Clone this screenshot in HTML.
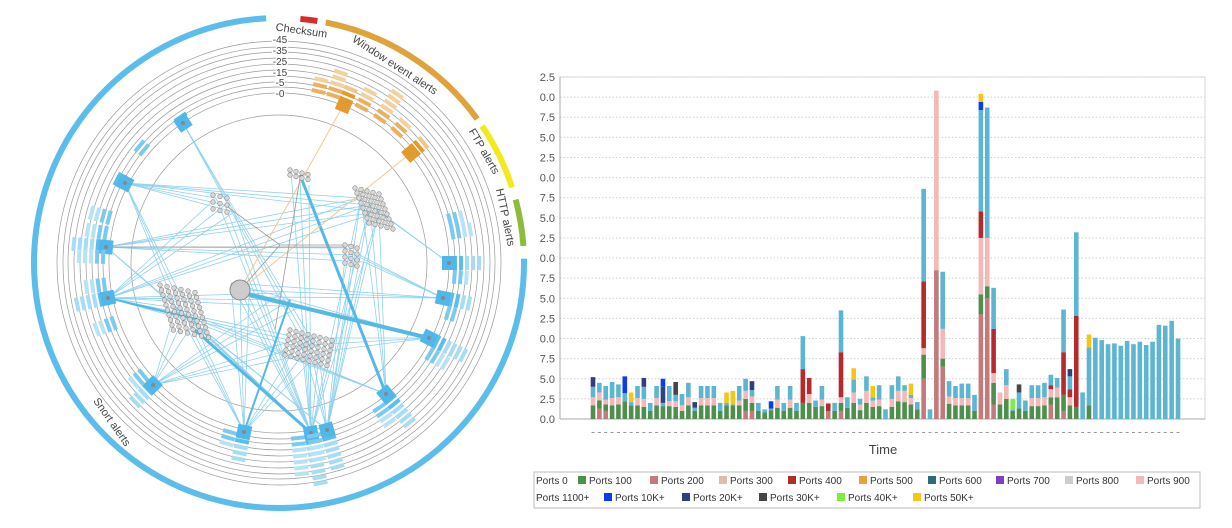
<!DOCTYPE html>
<html><head><meta charset="utf-8"><style>
body{margin:0;background:#fff;width:1232px;height:528px;overflow:hidden;font-family:"Liberation Sans",sans-serif}
svg{position:absolute;left:0;top:0}
</style></head><body>
<svg id="left" width="530" height="528" viewBox="0 0 530 528"></svg>
<svg id="right" width="1232" height="528" viewBox="0 0 1232 528" style="left:0"></svg>
<script>
// ---------- Bar chart data ----------
const categories = Array.from({length:93},(_,i)=>'t'+(i+1));
const yTickLabels = ['0.0','2.5','5.0','7.5','0.0','2.5','5.0','7.5','0.0','2.5','5.0','7.5','0.0','2.5','5.0','7.5','0.0','2.5'];
const yTickValues = [0,2.5,5,7.5,10,12.5,15,17.5,20,22.5,25,27.5,30,32.5,35,37.5,40,42.5];
const mauve = [0,1.3,1.0,0,0,0,0,0,0,0,0,0,0,0,0,0,0,0,0,0,0,0,0,0,1.0,1.0,0,0,0,0,0,0,0,0,0,0,0,1.0,0,1.0,0,0,0,0,0,0,0,0,0,0,0,0,5.0,0,18.5,6.5,0,0,0,0,0,13.0,15.0,1.8,0,0,0,0,0,0,0,0,1.8,0,1.0,0,0,0,0,0,0,0,0,0,0,0,0,0,0,0,0,0,0];
const green = [1.7,1.0,0.8,1.7,1.8,2.2,1.7,1.7,1.5,1.0,1.7,1.6,1.6,1.5,1.0,1.7,1.0,1.7,1.7,1.7,1.0,1.7,1.7,1.7,1.5,1.0,1.0,0.8,1.1,1.4,1.0,1.4,1.0,2.0,2.0,1.5,1.6,0,1.0,1.0,1.4,2.0,1.1,2.0,1.5,1.6,0,1.5,2.2,2.1,1.8,1.2,3.0,0,0,1.0,1.9,1.7,1.7,1.7,1.0,2.5,1.5,2.7,1.8,2.5,1.0,1.3,1.0,1.6,1.6,1.7,0.9,2.7,2.0,1.7,1.5,0,1.7,0,0,0,0,0,0,0,0,0,0,0,0,0,0];
const pink = [1.0,1.0,0.6,0.9,0.9,0,0,0.9,1.0,0,0.9,0,0.6,0.7,0.7,1.0,0,0.9,0.9,0.9,0,0,0,0.6,1.0,0.8,0,0,0,1.0,0,1.0,0,0,1.1,0,0.8,0,0,0.7,0,1.3,0.7,1.5,0.8,0.8,0,1.0,1.3,1.4,0.8,0,0.8,0,22.3,3.7,0.9,0.9,0.9,0.9,0,7.0,6.0,1.2,1.5,1.7,0,0,0,1.0,1.0,1.0,1.0,1.2,0,1.0,0,0,0,0,0,0,0,0,0,0,0,0,0,0,0,0,0];
const red = [0,0,0,0,0,0,0,0,0,0,0,0,0,0,0,0,0,0,0,0,0,0,0,0,0,0,0,0,0,0,0,0,0,4.2,2.0,0,0,0.9,0,5.6,0,0,0,0,0,0,0,0,0,0,0,0,8.3,0,0,0,0,0,0,0,0,3.3,0,5.5,0,0,0,0,0,0,0,0,0.5,0,5.3,1.0,11.3,0,0,0,0,0,0,0,0,0,0,0,0,0,0,0,0];
const lightBlue = [1.3,1.2,1.7,2.0,1.6,1.0,0.4,1.5,1.5,1.0,1.5,0.4,1.9,0.8,1.4,1.8,0.4,1.5,1.5,1.5,1.0,0.3,0.1,1.8,1.5,0.8,1.0,0.4,0.2,1.7,1.0,1.7,1.0,4.1,0,0.8,1.7,0.1,1.0,5.2,1.3,1.6,0.7,1.8,0.4,1.8,1.2,1.7,1.8,0.7,0.4,0.9,11.5,1.2,0,7.1,1.9,1.5,1.8,1.8,2.0,12.6,16.2,5.1,0,2.0,0.2,2.0,1.3,1.6,1.6,1.8,1.3,1.2,5.3,1.6,10.4,3.3,7.2,10.1,9.8,9.3,9.4,9.1,9.7,9.3,9.6,9.2,9.6,11.7,11.6,12.2,10.0];
const navy = [1.2,0,0,0,0,0,0,0,1.1,0,0,2.0,0,0,0,0,0.7,0,0,0,0,0,0,0,0,1.1,0,0,0,0,0,0,0,0,0,0,0,0,0,0,0,0,0,0,0,0,0,0,0,0,0,0,0,0,0,0,0,0,0,0,0,0,0,0,0,0,0,0,0,0,0,0,0,0,0,0.9,0,0,0,0,0,0,0,0,0,0,0,0,0,0,0,0,0];
const blue10k = [0,0,0,0,0,2.1,0,0,0,0,0,1.0,0,0,0,0,0,0,0,0,0,0,0,0,0,0,0,0,0.9,0,0,0,0,0,0,0,0,0,0,0,0,0,0,0,0,0,0,0,0,0,0,0,0,0,0,0,0,0,0,0,0,1.0,0,0,0,0,0,0,0,0,0,0,0,0,0,0,0,0,0,0,0,0,0,0,0,0,0,0,0,0,0,0,0];
const gray30k = [0,0,0,0,0,0,0,0,0,0,0,0,0,1.6,0,0,0,0,0,0,0,0,0,0,0,0,0,0,0,0,0,0,0,0,0,0,0,0,0,0,0,0,0,0,0,0,0,0,0,0,0,0,0,0,0,0,0,0,0,0,0,0,0,0,0,0,0,1.0,0,0,0,0,0,0,0,0,0,0,0,0,0,0,0,0,0,0,0,0,0,0,0,0,0];
const lime40k = [0,0,0,0,0,0,0,0,0,0,0,0,0,0,0,0,0,0,0,0,0,0,0,0,0,0,0,0,0,0,0,0,0,0,0,0,0,0,0,0,0,0,0,0,0,0,0,0,0,0,0,0,0,0,0,0,0,0,0,0,0,0,0,0,0,0,1.3,0,0,0,0,0,0,0,0,0,0,0,0,0,0,0,0,0,0,0,0,0,0,0,0,0,0];
const yellow50k = [0,0,0,0,0,0,1.2,0,0,0,0,0,0,0,0,0,0,0,0,0,0,1.3,1.7,0,0,0,0,0,0,0,0,0,0,0,0,0,0,0,0,0,0,1.4,0,0,1.4,0,0,0,0,0,1.4,0,0,0,0,0,0,0,0,0,0,1.0,0,0,0,0,0,0,0,0,0,0,0,0,0,0,0,0,1.6,0,0,0,0,0,0,0,0,0,0,0,0,0,0];
const seriesList = [
 ['mauve',mauve,'#c47a7a'],['green',green,'#4e8f4e'],['pink',pink,'#f4b8b8'],['red',red,'#b52a2a'],
 ['light-blue',lightBlue,'#5cb6d2'],['navy',navy,'#323e82'],['blue-10k',blue10k,'#0b3cf0'],
 ['gray-30k',gray30k,'#454545'],['lime-40k',lime40k,'#7cf03c'],['yellow-50k',yellow50k,'#f5c518']];
const legendLabels = ['Ports 0','Ports 100','Ports 200','Ports 300','Ports 400','Ports 500','Ports 600','Ports 700','Ports 800','Ports 900','Ports 1100+','Ports 10K+','Ports 20K+','Ports 30K+','Ports 40K+','Ports 50K+'];
const legendColors = [null,'#4e8f4e','#c47a7a','#dbbcae','#b52a2a','#e8a040','#2e6b78','#7b3fc8','#cccccc','#f4b8b8',null,'#0b3cf0','#323e82','#454545','#7cf03c','#f5c518'];

const NS='http://www.w3.org/2000/svg';
function mk(p,tag,at){const e=document.createElementNS(NS,tag);for(const k in at)e.setAttribute(k,at[k]);p.appendChild(e);return e;}

// axes
const X0=560,X1=1205,Y0=419,YT=77,VMAX=42.5;
const yS=v=>Y0-(v/VMAX)*(Y0-YT);
const xS=i=>593+i*(1178-593)/(categories.length-1);
const R=document.getElementById('right');
const pa=mk(R,'rect',{x:X0,y:YT,width:X1-X0,height:Y0-YT,fill:'none',stroke:'#d8d8d8'});


yTickValues.forEach((v,k)=>{
  const g=mk(R,'line',{x1:X0,x2:X1,y1:yS(v),y2:yS(v),stroke:'#d0d0d0','stroke-dasharray':'1.5 2'});
  
  
  const t=mk(R,'text',{x:X0-5,y:yS(v)+4,'text-anchor':'end','font-size':11,fill:'#555'});
  t.textContent=yTickLabels[k];
  
  
});
mk(R,'line',{x1:X0,x2:X0,y1:YT,y2:Y0,stroke:'#aaa'});
mk(R,'line',{x1:X0,x2:X1,y1:Y0,y2:Y0,stroke:'#aaa'});
// bars
categories.forEach((c,i)=>{
  let acc=0;
  seriesList.forEach(([nm,arr,col])=>{
    const v=arr[i]; if(!v) return;
    const r=mk(R,'rect',{x:xS(i)-2.3,width:4.6,y:yS(acc+v),height:yS(acc)-yS(acc+v),fill:col});
    
    
    acc+=v;
  });
  const tk=mk(R,'rect',{x:xS(i)-1.5,y:432,width:3,height:1,fill:'#999'});
  
  
});
const xt=mk(R,'text',{x:883,y:454,'text-anchor':'middle','font-size':13,fill:'#444'});
xt.textContent='Time';


// legend
const lb=mk(R,'rect',{x:534,y:472,width:666,height:36,fill:'#fff',stroke:'#bbb'});


const legX=[536,578,650,719,788,859,928,996,1065,1136,536,604,682,759,837,913];
legendLabels.forEach((l,k)=>{
  const y=k<10?482:499;
  let tx=legX[k];
  if(legendColors[k]){
    const s=mk(R,'rect',{x:legX[k],y:y-6,width:8,height:8,fill:legendColors[k]});
    
    
    tx+=11;
  }
  const t=mk(R,'text',{x:tx,y:y+2,'font-size':10,fill:'#333'});
  t.textContent=l;
  
  
});

// ---------- Radial graph ----------
const L=document.getElementById('left');
const CX=279,CY=263;
const pol=(r,a)=>[CX+r*Math.cos(a*Math.PI/180),CY+r*Math.sin(a*Math.PI/180)];
function arc(r,a1,a2,col,w,name){
  const [x1,y1]=pol(r,a1),[x2,y2]=pol(r,a2);
  const large=((a2-a1+360)%360)>180?1:0;
  const p=mk(L,'path',{d:`M${x1} ${y1} A${r} ${r} 0 ${large} 1 ${x2} ${y2}`,fill:'none',stroke:col,'stroke-width':w});
  
  
}
arc(245,-1,-93,'#5bbdec',6,'snort-alerts-arc');
arc(245,-85,-81,'#d92b2b',6,'checksum-arc');
arc(245,-79,-36,'#e0a23a',6,'window-event-arc');
arc(245,-34,-18,'#f2ea1c',6,'ftp-arc');
arc(245,-15,-4,'#8cbc3c',6,'http-arc');
// rings
const ringR=[148,170,176,181,187,193,199,205,211,216,222];
ringR.forEach(r=>{const c=mk(L,'circle',{cx:CX,cy:CY,r:r,fill:'none',stroke:'#999','stroke-width':0.7});
 
 });
const ringLabels=[['-0',97],['-5',86],['-15',76],['-25',65],['-35',54],['-45',43]];
ringLabels.forEach(([t,y])=>{const e=mk(L,'text',{x:280,y:y,'text-anchor':'middle','font-size':10,fill:'#444',stroke:'#fff','stroke-width':2.5,'paint-order':'stroke'});e.textContent=t;
 
 });
// labels
function lab(t,x,y,rot,name){const e=mk(L,'text',{x:x,y:y,'font-size':11,fill:'#444','text-anchor':'middle',transform:`rotate(${rot} ${x} ${y})`});e.textContent=t;
 
 }
lab('Checksum',301,34,8,'checksum-label');
lab('Window event alerts',393,68,33,'window-event-label');
lab('FTP alerts',481,153,60,'ftp-label');
lab('HTTP alerts',502,218,78,'http-label');
lab('Snort alerts',109,424,55,'snort-label');
// edges
const clusters=[[185,315],[310,345],[370,205],[240,290],[225,205],[300,178],[355,255],[280,245],[290,300]];
const alertNodes=[[183,123,-124],[125,183,-152.5],[106,247,-174.7],[108,298,168.4],[153,385,136],[244,432,101.7],[311,433,79.3],[327,430,74],[386,394,50.8],[429,338,26.6],[443,298,12],[449,263,0]];
const thinEdges=[[0,1],[1,0],[1,2],[1,4],[2,0],[2,2],[2,6],[3,0],[3,1],[3,2],[3,4],[3,8],[4,0],[4,1],[5,1],[5,3],[6,0],[6,1],[6,2],[6,4],[6,5],[7,1],[7,2],[7,6],[8,2],[8,0],[9,3],[10,3],[11,2],[10,6],[9,1],[6,3],[5,0],[7,0],[4,8]];
thinEdges.forEach(([a,c])=>{
  const [x,y]=alertNodes[a];const [cx,cy]=clusters[c];
  for(let k=0;k<3;k++){const e=mk(L,'line',{x1:x,y1:y,x2:cx+(k-1)*9,y2:cy+(k-1)*7,stroke:'#8fd2ef','stroke-width':0.8});
   
   }
});
const thick=[[238,292,429,338,4],[300,175,386,394,3],[195,330,311,433,3],[244,432,290,300,2],[108,298,200,320,2]];
thick.forEach(([a,b,c,d,w])=>{const e=mk(L,'line',{x1:a,y1:b,x2:c,y2:d,stroke:'#55b9e6','stroke-width':w});
 
 });
[[343,106,240,290],[411,153,240,290]].forEach(([a,b,c,d])=>{const e=mk(L,'line',{x1:a,y1:b,x2:c,y2:d,stroke:'#f0c890','stroke-width':1});
 
 });
[[225,205,280,245],[280,245,355,245],[300,178,275,330],[240,290,280,245],[106,247,345,247]].forEach(([a,b,c,d])=>{const e=mk(L,'line',{x1:a,y1:b,x2:c,y2:d,stroke:'#999','stroke-width':0.8});
 
 });
// host clusters
function cluster(x0,y0,rows,cols,dx,dy,skew){
  for(let r=0;r<rows;r++)for(let c=0;c<cols;c++){
    const e=mk(L,'circle',{cx:x0+c*dx+r*skew,cy:y0+r*dy+c*1.5,r:2.3,fill:'#d8d8d8',stroke:'#888','stroke-width':0.6});
    
    
  }
}
cluster(160,285,10,6,7,5,1.5);
cluster(290,330,6,8,6,5,-1);
cluster(355,188,8,5,6,5,2);
cluster(213,195,3,3,7,7,0);
cluster(290,170,2,4,6,5,0);
cluster(345,245,4,3,6,6,0);
const big=mk(L,'circle',{cx:240,cy:290,r:10,fill:'#ccc',stroke:'#888'});


// alert nodes + stacks
function stack(a,ang,levels,col,light){
  for(let k=0;k<levels;k++){
    const r=176+k*6;const [x,y]=pol(r,ang);
    const e=mk(L,'rect',{x:x-7,y:y-2,width:14,height:4,fill:k<2?col:light,transform:`rotate(${ang+90} ${x} ${y})`});
    
    
  }
}
const stackLevels=[1,2,6,6,5,5,9,7,6,6,4,5];
alertNodes.forEach(([x,y,ang],k)=>{
  stack(k,ang,stackLevels[k],'#5bbdec','#a8dcf5');
  stack(k,ang+4.5,Math.max(0,stackLevels[k]-2),'#7cc9ef','#b8e2f6');
  const s=mk(L,'rect',{x:x-7,y:y-7,width:14,height:14,fill:'#4fb7ea',transform:`rotate(${ang+90} ${x} ${y})`});
  
  
  const d=mk(L,'circle',{cx:x,cy:y,r:2,fill:'#888'});
});
[[-10,4],[-14,3],[-165,4],[-178,5],[160,4],[-140,2]].forEach(([ang,n])=>stack(0,ang,n,'#7cc9ef','#b8e2f6'));
[[411,153,-39.8,3],[344,105,-67.6,3]].forEach(([x,y,ang,n])=>{
  stack(0,ang,n,'#e29a2c','#f2c48a');
  const s=mk(L,'rect',{x:x-7,y:y-7,width:14,height:14,fill:'#e29a2c',transform:`rotate(${ang+90} ${x} ${y})`});
  
  
});
[[-72,5],[-62,4],[-55,6],[-48,3],[-77,3]].forEach(([ang,n])=>stack(0,ang,n,'#eab060','#f4cfa0'));
</script>
</body></html>
